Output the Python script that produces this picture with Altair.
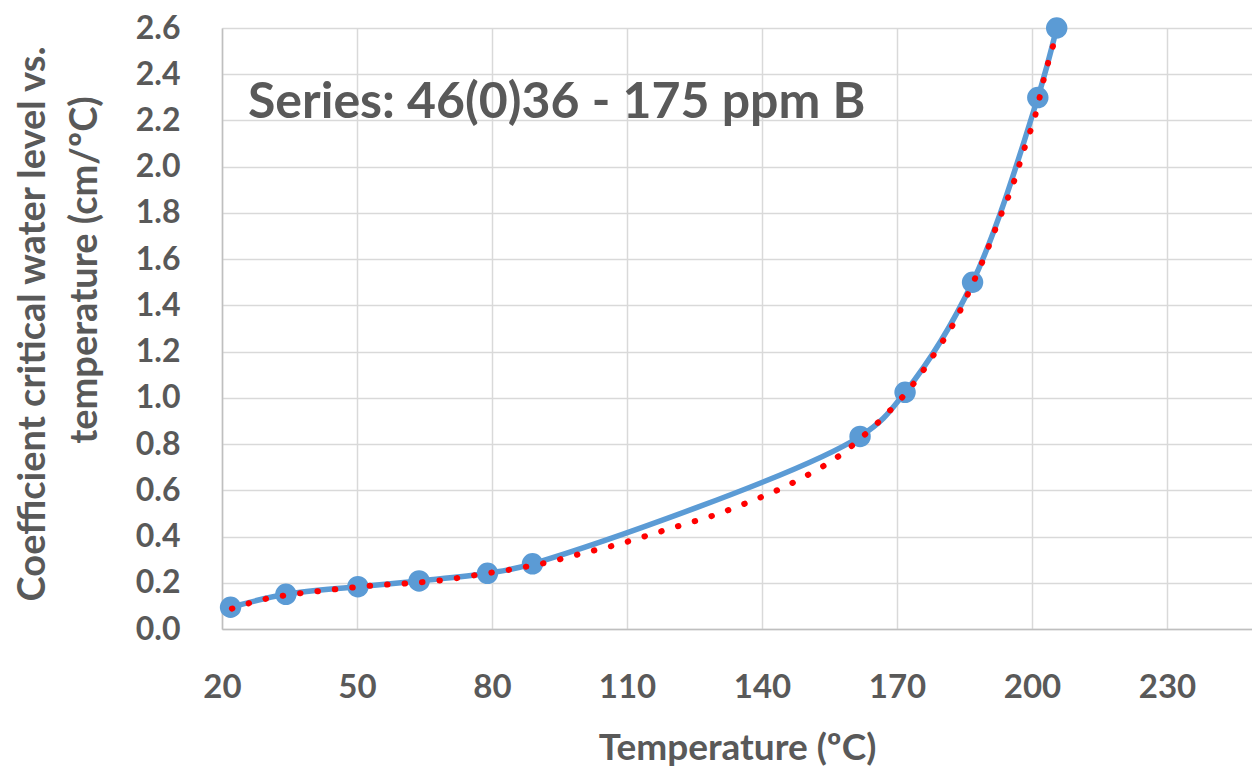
import altair as alt
import pandas as pd

# Measured series (blue, smoothed line with markers)
temp = [21.9, 34.2, 50.2, 63.8, 79.0, 89.0, 161.8, 171.8, 186.8, 201.3, 205.5]
coef = [0.094, 0.150, 0.183, 0.208, 0.241, 0.282, 0.833, 1.024, 1.500, 2.299, 2.600]

# Trendline (red dotted)
trend_t = [22.2, 29.6, 37.2, 45.3, 53.4, 61.6, 69.6, 77.3, 84.9, 92.5, 100.2, 107.8,
           115.3, 122.4, 129.8, 136.8, 143.8, 150.5, 157.0, 163.1, 168.8, 174.0,
           178.6, 182.9, 186.4, 189.7, 192.7, 195.8, 198.3, 200.9, 202.8, 205.1]
trend_v = [0.088, 0.130, 0.154, 0.172, 0.188, 0.198, 0.213, 0.236, 0.260, 0.289, 0.328, 0.365,
           0.409, 0.451, 0.495, 0.547, 0.604, 0.670, 0.747, 0.845, 0.952, 1.069,
           1.199, 1.333, 1.476, 1.622, 1.772, 1.924, 2.078, 2.234, 2.392, 2.549]

x_ticks = [20, 50, 80, 110, 140, 170, 200, 230]
y_ticks = [0.0, 0.2, 0.4, 0.6, 0.8, 1.0, 1.2, 1.4, 1.6, 1.8, 2.0, 2.2, 2.4, 2.6]

x_title = "Temperature (ºC)"
y_title_1 = "Coefficient critical water level vs."
y_title_2 = "temperature (cm/ºC)"
annotation = "Series: 46(0)36 - 175 ppm B"

main = pd.DataFrame({"t": temp, "c": coef})
trend = pd.DataFrame({"t": trend_t, "c": trend_v})

TEXT = "#595959"
FONT = "Lato"

xenc = alt.X("t:Q",
             scale=alt.Scale(domain=[20, 248.9], nice=False, zero=False),
             axis=alt.Axis(values=x_ticks, title=x_title, format="d",
                           labelFlush=False, labelFontSize=33,
                           titleFontSize=37, titlePadding=26))
yenc = alt.Y("c:Q",
             scale=alt.Scale(domain=[0, 2.6], nice=False, zero=True),
             axis=alt.Axis(values=y_ticks, title=None, format=".1f",
                           labelFlush=False, labelFontSize=32))

line = alt.Chart(main).mark_line(
    color="#5B9BD5", strokeWidth=5.5, interpolate="catmull-rom", clip=False
).encode(x=xenc, y=yenc)

pts = alt.Chart(main).mark_circle(
    color="#5B9BD5", size=460, opacity=1, clip=False
).encode(x="t:Q", y="c:Q")

tr = alt.Chart(trend).mark_line(
    color="#FF0000", strokeWidth=6, strokeDash=[0.5, 17], strokeCap="round",
    interpolate="monotone", clip=False
).encode(x="t:Q", y="c:Q")

ann = alt.Chart(pd.DataFrame({"label": [annotation]})).mark_text(
    align="left", baseline="alphabetic", font=FONT, fontSize=50,
    fontWeight="bold", color=TEXT
).encode(x=alt.value(26), y=alt.value(90), text="label:N")

yt1 = alt.Chart(pd.DataFrame({"label": [y_title_1]})).mark_text(
    align="center", baseline="middle", angle=270, font=FONT, fontSize=38,
    fontWeight="bold", color=TEXT
).encode(x=alt.value(-188), y=alt.value(296), text="label:N")

yt2 = alt.Chart(pd.DataFrame({"label": [y_title_2]})).mark_text(
    align="center", baseline="middle", angle=270, font=FONT, fontSize=38,
    fontWeight="bold", color=TEXT
).encode(x=alt.value(-136), y=alt.value(242), text="label:N")

chart = alt.layer(line, pts, tr, ann, yt1, yt2).properties(
    width=1030, height=601,
    autosize=alt.AutoSizeParams(type="none"),
    padding={"left": 214, "top": 20, "right": 0, "bottom": 141},
).configure_view(
    stroke="transparent"
).configure_axis(
    labelFont=FONT, labelFontWeight="bold", labelColor=TEXT,
    titleFont=FONT, titleFontWeight="bold", titleColor=TEXT,
    labelPadding=42, ticks=False,
    domainColor="#BFBFBF", domainWidth=1.5,
    gridColor="#D9D9D9", gridWidth=1.5,
)

chart.save("out.html", embed_options={"renderer": "svg", "actions": False})
